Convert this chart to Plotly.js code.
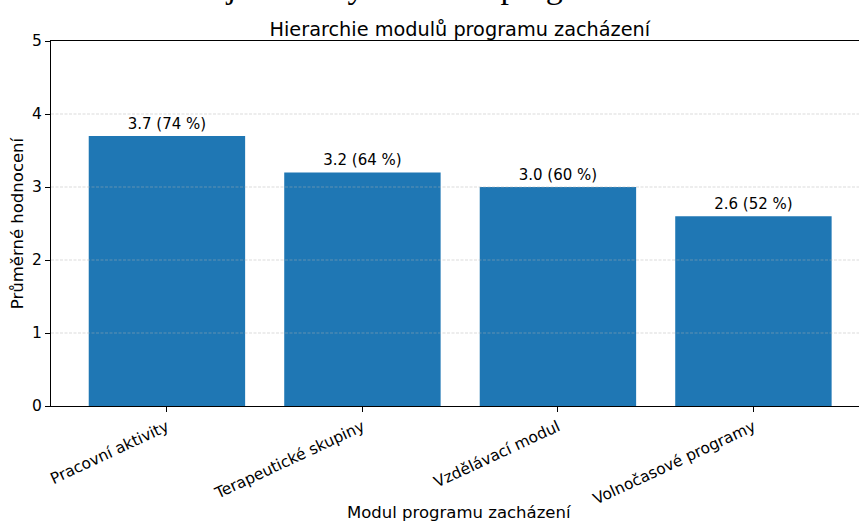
<!DOCTYPE html>
<html>
<head>
<meta charset="utf-8">
<script src="https://cdn.plot.ly/plotly-3.0.1.min.js"></script>
<style>html,body{margin:0;padding:0;background:#fff;}</style>
</head>
<body>
<div id="chart" style="width:859px;height:521px;"></div>
<script>
const categories = ["Pracovní aktivity", "Terapeutické skupiny", "Vzdělávací modul", "Volnočasové programy"];
const values = [3.7, 3.2, 3.0, 2.6];
const maxScore = 5;
const yTicks = [0, 1, 2, 3, 4, 5];
const gridValues = [1, 2, 3, 4];
const chartTitle = "Hierarchie modulů programu zacházení";
const superTitle = "Hodnocení jednotlivých složek programu zacházení";
const xTitle = "Modul programu zacházení";
const yTitle = "Průměrné hodnocení";

const labels = values.map(v => v.toFixed(1) + " (" + Math.round(v / maxScore * 100) + " %)");
const font = "DejaVu Sans, sans-serif";

const trace = {
  type: "bar",
  x: categories.map((c, i) => i),
  y: values,
  width: 0.8,
  marker: {color: "#1f77b4", line: {width: 0}},
  text: labels,
  textposition: "outside",
  textfont: {family: font, size: 15, color: "#000"},
  cliponaxis: false,
  hoverinfo: "none"
};

const shapes = gridValues.map(g => ({
  type: "line", xref: "paper", x0: 0, x1: 1, yref: "y", y0: g, y1: g,
  layer: "above",
  line: {color: "rgba(176,176,176,0.65)", width: 0.7, dash: "3px,1.5px"}
}));

const layout = {
  width: 859, height: 521,
  margin: {l: 51, r: 0, t: 41, b: 115, pad: 0},
  paper_bgcolor: "#fff", plot_bgcolor: "#fff",
  showlegend: false,
  font: {family: font, size: 15, color: "#000"},
  title: {
    text: chartTitle,
    font: {family: font, size: 19.3, color: "#000"},
    x: 0.506, xref: "paper", xanchor: "center",
    y: 1, yref: "paper", yanchor: "bottom", pad: {b: 5}
  },
  xaxis: {
    range: [-0.593, 3.54],
    tickmode: "array",
    tickvals: categories.map((c, i) => i),
    ticktext: categories,
    tickangle: -25,
    ticks: "outside", ticklen: 5, tickwidth: 1, tickcolor: "#000",
    showline: true, linecolor: "#000", linewidth: 1.1, mirror: true,
    showgrid: false, zeroline: false,
    tickfont: {family: font, size: 15.5, color: "#000"}
  },
  yaxis: {
    range: [0, 5],
    tickmode: "array",
    tickvals: yTicks,
    ticks: "outside", ticklen: 5, tickwidth: 1, tickcolor: "#000",
    showline: true, linecolor: "#000", linewidth: 1.1,
    showgrid: false, zeroline: false,
    tickfont: {family: font, size: 15.5, color: "#000"},
    title: {text: yTitle, font: {family: font, size: 16.5, color: "#000"}, standoff: 4}
  },
  shapes: shapes,
  annotations: [{
    text: superTitle,
    xref: "paper", yref: "paper",
    x: 0.46, y: 1.093, xanchor: "center", yanchor: "bottom",
    showarrow: false,
    font: {family: "Liberation Serif, serif", size: 34, color: "#000"}
  }, {
    text: xTitle,
    xref: "paper", yref: "paper",
    x: 0.506, y: -0.293, xanchor: "center", yanchor: "middle",
    showarrow: false,
    font: {family: font, size: 16.5, color: "#000"}
  }]
};

Plotly.newPlot("chart", [trace], layout, {displayModeBar: false, staticPlot: true});
</script>
</body>
</html>
